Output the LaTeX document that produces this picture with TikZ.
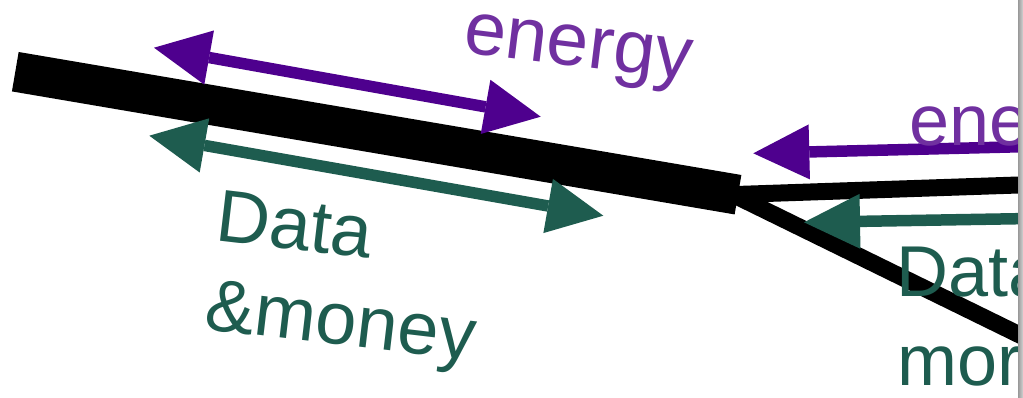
\documentclass[tikz,border=0pt]{standalone}
\usepackage{fontspec}
\setmainfont{Liberation Sans}
\usetikzlibrary{arrows.meta}

\definecolor{flowpurple}{HTML}{4E008E}
\definecolor{labelpurple}{HTML}{7030A0}
\definecolor{flowgreen}{HTML}{1E5C4F}

\tikzset{
  headtip/.tip={Triangle[length=56pt,width=55pt,line width=0pt]},
  trunk/.style={line width=40pt, line cap=butt},
  branch/.style={line width=17pt, line cap=butt},
  twoway/.style={line width=11.5pt, headtip-headtip},
  oneway/.style={line width=11.5pt, headtip-},
  lbl/.style={inner sep=0pt, anchor=base west, font=\fontsize{72}{86}\selectfont},
  biglbl/.style={lbl, font=\fontsize{74}{88}\selectfont},
}

\begin{document}
\begin{tikzpicture}[x=1pt, y=-1pt]
\useasboundingbox (0,0) rectangle (1023,397);

\begin{scope}
  \clip (0,0) rectangle (1018,397);

  % main line and its two branches
  \coordinate (trunkW) at (15.3,71.7);
  \coordinate (trunkE) at (738,194.7);
  \coordinate (upperE) at (1030,184.6);
  \coordinate (lowerE) at (1030,340);
  \draw[trunk] (trunkW) -- (trunkE);
  \draw[branch] (736,194.5) -- (upperE);
  \draw[branch] (736,196) -- (lowerE);

  % flows along the main line
  \coordinate (enW) at (154,47.7);
  \coordinate (enE) at (540.7,116.7);
  \coordinate (dmW) at (149.3,135.7);
  \coordinate (dmE) at (603.3,215.7);
  \draw[twoway, draw=flowpurple, fill=flowpurple] (enW) -- (enE);
  \draw[twoway, draw=flowgreen, fill=flowgreen] (dmW) -- (dmE);

  % flows along the upper branch
  \coordinate (enTip) at (753.3,153.3);
  \coordinate (enTail) at (1030,146.5);
  \coordinate (dmTip) at (804,222.3);
  \coordinate (dmTail) at (1030,218.5);
  \draw[oneway, draw=flowpurple, fill=flowpurple] (enTip) -- (enTail);
  \draw[oneway, draw=flowgreen, fill=flowgreen] (dmTip) -- (dmTail);

  % labels
  \node[biglbl, text=labelpurple, rotate=-7, font=\fontsize{75}{88}\selectfont] (energyA) at (462,52) {energy};
  \node[biglbl, text=flowgreen, rotate=-6.7] (dataA) at (214,240) {Data};
  \node[biglbl, text=flowgreen, rotate=-6.7] (moneyA) at (203.5,329) {\&money};
  \node[lbl, text=labelpurple] (energyB) at (909,145) {ene};
  \node[lbl, text=flowgreen] (dataB) at (896,296.7) {Data};
  \node[lbl, text=flowgreen] (moneyB) at (897,385) {mor};
\end{scope}

% page edge
\shade[left color=gray!80, right color=gray!35] (1018,0) rectangle (1023,397);
\end{tikzpicture}
\end{document}
